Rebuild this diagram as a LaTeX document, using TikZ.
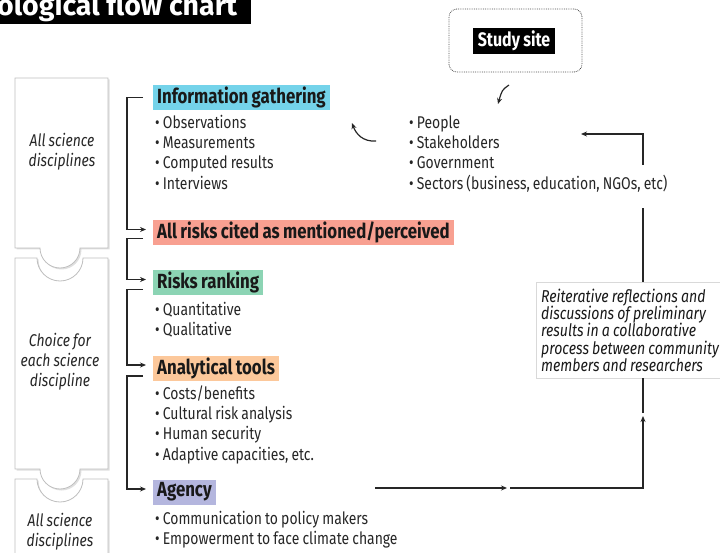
\documentclass[tikz,border=0pt]{standalone}
\usepackage{fontspec}
\setmainfont{Fira Sans}[FakeStretch=0.82, WordSpace=0.85]
\newfontfamily\titlefont{Fira Sans}
\usepackage{tikz}
\usetikzlibrary{
	arrows.meta,
	calc,
	positioning,
	shadows,
}
\definecolor{infocol}{HTML}{74D3EA}
\definecolor{riskcol}{HTML}{F8A091}
\definecolor{rankcol}{HTML}{8CD4B4}
\definecolor{toolcol}{HTML}{FCC89B}
\definecolor{agencycol}{HTML}{B4B6DE}
\tikzset{
	head node/.style={
		anchor=west,
		inner xsep=4pt,
		inner ysep=0pt,
		minimum height=25pt,
		font=\fontsize{20.5}{23}\selectfont\bfseries,
		text=black!90,
	},
	item node/.style={
		anchor=base west,
		inner sep=0pt,
		font=\fontsize{17}{20}\selectfont,
		text=black!85,
	},
	flow/.style={-{Stealth[length=6pt,width=5pt]}, line width=1.2pt, black!85},
	plain line/.style={line width=1.2pt, black!85},
	side box/.style={
		fill=white,
		draw=black!25,
		line width=0.8pt,
		drop shadow={shadow xshift=1.5pt, shadow yshift=-1.5pt, opacity=0.25},
	},
	side text/.style={
		align=center,
		font=\fontsize{17}{20}\selectfont\itshape,
		text=black!85,
	},
}

\begin{document}
\begin{tikzpicture}[x=1pt, y=-1pt]
\useasboundingbox (0,0) rectangle (720,553);
\clip (0,0) rectangle (720,553);

\fill[black] (0,0) rectangle (251,24);
\node(title)[anchor=base west, inner sep=0pt, text=white, font=\fontsize{28.5}{30}\titlefont\bfseries] at (-3,16) {ological flow chart};

\draw[side box] (15,78) -- (108,78) -- (108,248) -- (80,248) arc[start angle=0, end angle=180, radius=20] -- (15,248) -- cycle;
\draw[side box] (15,258) -- (37,258) arc[start angle=180, end angle=0, radius=23] -- (108,258) -- (108,469) -- (80,469) arc[start angle=0, end angle=180, radius=20] -- (15,469) -- cycle;
\draw[side box] (15,479) -- (37,479) arc[start angle=180, end angle=0, radius=23] -- (108,479) -- (108,570) -- (15,570) -- cycle;

\node(side1)[side text] at (62,152) {All science\\disciplines};
\node(side2)[side text] at (60,362) {Choice for\\each science\\discipline};
\node(side3)[side text] at (60,532) {All science\\disciplines};

\node(info)[head node, fill=infocol] at (153,97.5) {Information gathering};
\node(allrisks)[head node, fill=riskcol] at (153,232.5) {All risks cited as mentioned/perceived};
\node(ranking)[head node, fill=rankcol] at (153,282.5) {Risks ranking};
\node(tools)[head node, fill=toolcol] at (153,368) {Analytical tools};
\node(agency)[head node, fill=agencycol] at (153,492) {Agency};

\foreach \t [count=\i] in {Observations, Measurements, Computed results, Interviews}
\node(obs\i)[item node] at (155,108+20.3*\i) {\textbullet\ \t};
\foreach \t [count=\i] in {Quantitative, Qualitative}
\node(rank\i)[item node] at (155,295+20.3*\i) {\textbullet\ \t};
\foreach \t [count=\i] in {Costs/benefits, Cultural risk analysis, Human security, {Adaptive capacities, etc.}}
\node(tool\i)[item node] at (155,379+20.3*\i) {\textbullet\ \t};
\foreach \t [count=\i] in {Communication to policy makers, Empowerment to face climate change}
\node(agency\i)[item node] at (155,504+20.3*\i) {\textbullet\ \t};
\foreach \t [count=\i] in {People, Stakeholders, Government, {Sectors (business, education, NGOs, etc)}}
\node(people\i)[item node] at (409,108+20.3*\i) {\textbullet\ \t};

\node(site)[draw, densely dotted, black!70, line width=0.8pt, rounded corners=8pt, minimum width=133pt, minimum height=63pt] at (515.5,40.5) {};
\node(sitelabel)[fill=black, text=white, inner xsep=5pt, minimum height=25pt, font=\fontsize{19.5}{21}\selectfont\bfseries] at (514,41) {Study site};

\node(reflect)[anchor=north west, fill=white, draw=black!15, drop shadow={shadow xshift=1pt, shadow yshift=-1pt, opacity=0.2}, align=left, inner xsep=5pt, inner ysep=4pt, minimum height=96pt, font=\fontsize{17.2}{17.2}\selectfont\itshape, text=black!90] at (536,282) {Reiterative reflections and\\discussions of preliminary\\results in a collaborative\\process between community\\members and researchers};

\foreach \a/\b/\s in {info/allrisks/0, allrisks/ranking/6, ranking/tools/7, tools/agency/8}
\draw[flow] ([xshift=-10pt, yshift=-\s pt]\a.west) -- ++(-16,0) |- ([xshift=-7pt, yshift=3pt]\b.west);

\coordinate(sitefoot) at (509,85);
\coordinate(peopletop) at (498,104);
\coordinate(peopleout) at (376,141);
\coordinate(infoin) at (352,123);
\draw[flow] (sitefoot) .. controls (502,90) .. (peopletop);
\draw[flow] (peopleout) .. controls (363,142) and (356,134) .. (infoin);

\coordinate(agencyout) at (375,488);
\coordinate(midh) at (507,488);
\coordinate(midv) at (643,416);
\coordinate(upgap) at (643,208);
\coordinate(topstart) at (643,165);
\coordinate(peopleend) at (581,134);

\draw[flow] (agencyout) -- (midh);
\draw[flow] ([xshift=3pt]midh) -| (midv);
\draw[plain line] ([yshift=3pt]midv) -- (reflect.south -| midv);
\draw[plain line] (reflect.north -| midv) -- (upgap);
\draw[flow] (topstart) |- (peopleend);

\end{tikzpicture}
\end{document}
